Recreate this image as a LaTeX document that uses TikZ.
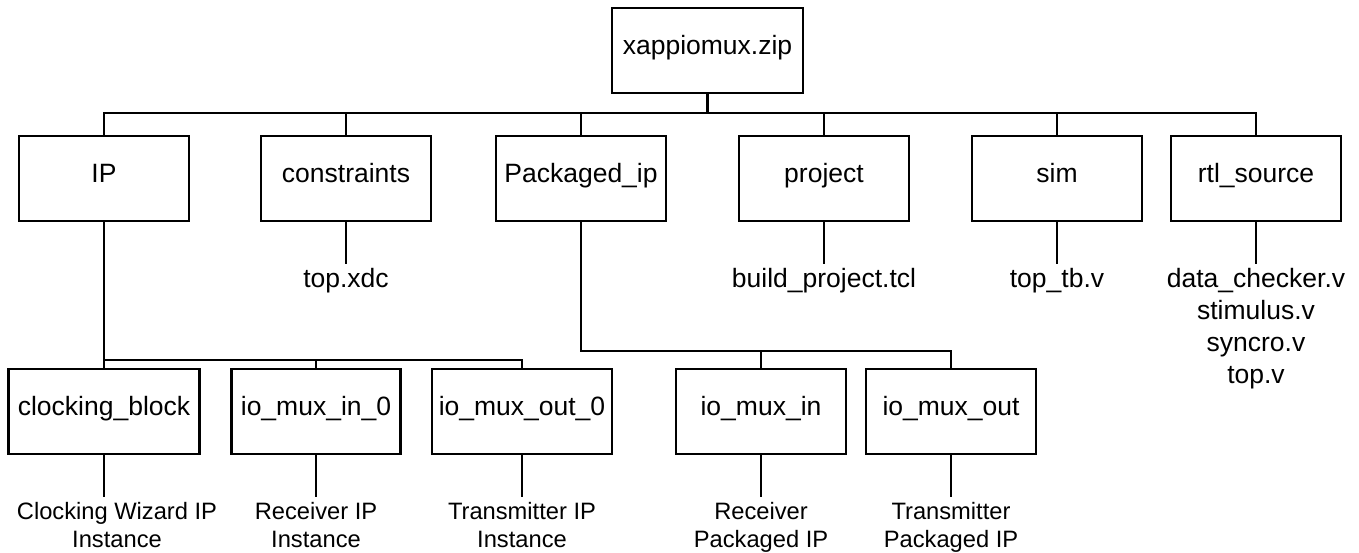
\documentclass[tikz,border=0pt]{standalone}
\usepackage{fontspec}
\setmainfont{Liberation Sans}
\usetikzlibrary{positioning}

\tikzset{
    folder/.style={draw, line width=2.6pt, inner sep=0pt, text height=46pt, text depth=39pt, minimum width=#1},
    folder/.default=170pt,
    files/.style={anchor=north, inner xsep=0pt, inner ysep=3.5pt, align=center},
    subfiles/.style={files, inner ysep=4.5pt, font=\fontsize{23.7}{28}\selectfont},
    branch/.style={line width=1.3pt},
}

\begin{document}
\begin{tikzpicture}[x=1pt, y=-1pt, font=\fontsize{26.5}{32}\selectfont]
    \useasboundingbox (0,0) rectangle (1359,552);
    % \draw [help lines, step=50] (0,0) grid (1359,552);

    % archive
    \node [folder=191pt] (zip) at (707.5,50.5) {xappiomux.zip};

    % top level folders
    \node [folder] (ip)          at (104,178.5)  {IP};
    \node [folder] (constraints) at (346,178.5)  {constraints};
    \node [folder] (packaged)    at (581,178.5)  {Packaged\_ip};
    \node [folder] (project)     at (824,178.5)  {project};
    \node [folder] (sim)         at (1057,178.5) {sim};
    \node [folder] (rtl)         at (1256,178.5) {rtl\_source};

    % IP instances
    \node [folder=191pt] (clk)     at (104,411.5) {clocking\_block};
    \node [folder=169pt] (muxin0)  at (316,411.5) {io\_mux\_in\_0};
    \node [folder=180pt] (muxout0) at (522,411.5) {io\_mux\_out\_0};

    % packaged IP
    \node [folder] (muxin)  at (761,411.5) {io\_mux\_in};
    \node [folder] (muxout) at (951,411.5) {io\_mux\_out};

    % files
    \node [files, below=42pt of constraints] (xdc) {top.xdc};
    \node [files, below=42pt of project] (tcl) {build\_project.tcl};
    \node [files, below=42pt of sim] (tb) {top\_tb.v};
    \node [files, below=42pt of rtl] (src) {data\_checker.v\\stimulus.v\\syncro.v\\top.v};

    \node [subfiles, below=42pt of clk, xshift=13pt] (clkwiz) {Clocking Wizard IP\\Instance};
    \node [subfiles, below=42pt of muxin0] (rxinst) {Receiver IP\\Instance};
    \node [subfiles, below=42pt of muxout0] (txinst) {Transmitter IP\\Instance};
    \node [subfiles, below=42pt of muxin] (rxpkg) {Receiver\\Packaged IP};
    \node [subfiles, below=42pt of muxout] (txpkg) {Transmitter\\Packaged IP};

    % tree lines
    \coordinate (bus) at (0,113);
    \coordinate (ipbus) at (0,360);
    \coordinate (pkgbus) at (0,351);

    \draw [line width=2.6pt] (zip.south) -- (zip.south |- bus);
    \draw [branch] (ip.north) |- (rtl.north |- bus) -- (rtl.north);
    \foreach \d in {constraints, packaged, project, sim}
        \draw [branch] (\d.north) -- (\d.north |- bus);

    \draw [branch] (ip.south) -- (clk.north);
    \draw [branch] (ip.south |- ipbus) -| (muxout0.north);
    \draw [branch] (muxin0.north) -- (muxin0.north |- ipbus);

    \draw [branch] (packaged.south) |- (muxout.north |- pkgbus) -- (muxout.north);
    \draw [branch] (muxin.north) -- (muxin.north |- pkgbus);

    \foreach \a/\b in {constraints/xdc, project/tcl, sim/tb, rtl/src, muxin0/rxinst, muxout0/txinst, muxin/rxpkg, muxout/txpkg}
        \draw [branch] (\a) -- (\b);
    \draw [branch] (clk.south) -- (clk.south |- clkwiz.north);

\end{tikzpicture}
\end{document}
